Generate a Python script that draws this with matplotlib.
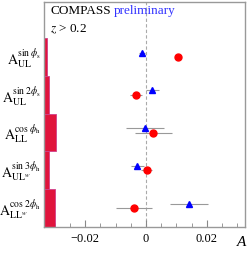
import matplotlib
matplotlib.use("Agg")
import matplotlib.pyplot as plt
from matplotlib.ticker import MultipleLocator
import numpy as np

plt.rcParams['mathtext.fontset'] = 'stix'
plt.rcParams['font.family'] = ['Liberation Serif', 'DejaVu Serif']

labels = [r"$\mathrm{A}_{\mathrm{UL}}^{\sin\,\phi_{\mathrm{s}}}$",
          r"$\mathrm{A}_{\mathrm{UL}}^{\sin\,2\phi_{\mathrm{s}}}$",
          r"$\mathrm{A}_{\mathrm{LL}}^{\cos\,\phi_{\mathrm{h}}}$",
          r"$\mathrm{A}_{\mathrm{UL}^{w}}^{\sin\,3\phi_{\mathrm{h}}}$",
          r"$\mathrm{A}_{\mathrm{LL}^{w}}^{\cos\,2\phi_{\mathrm{h}}}$"]
rows = [5, 4, 3, 2, 1]
blue_val = [-0.0012, 0.0021, -0.0003, -0.0028, 0.0142]
blue_err = [0.0010, 0.0021, 0.0063, 0.0020, 0.0063]
red_val = [0.0104, -0.0033, 0.0024, 0.0002, -0.0038]
red_err = [0.0006, 0.0020, 0.0060, 0.0019, 0.0059]
sys_width = [0.0009, 0.0018, 0.0038, 0.0016, 0.0037]

xmin, xmax = -0.0335, 0.0325
fig = plt.figure(figsize=(2.49, 2.58), dpi=100)
ax = fig.add_axes([44/249, 31/258, 201/249, 225/258])
ax.set_xlim(xmin, xmax)
ax.set_ylim(0.5, 6.46)

ax.barh(rows, sys_width, height=1.0, left=xmin, color='#e0143c',
        edgecolor='#d0408a', linewidth=0.6, zorder=2)
ax.axvline(0, color='#aaaaaa', ls=(0, (3, 2)), lw=0.8, zorder=1)

yb = np.array(rows) + 0.12
ax.errorbar(red_val, rows, xerr=red_err, fmt='o', color='red', ms=5,
            ecolor='#999999', elinewidth=0.8, capsize=0, zorder=4)
ax.errorbar(blue_val, yb, xerr=blue_err, fmt='^', color='blue', ms=5,
            ecolor='#999999', elinewidth=0.8, capsize=0, zorder=4)

for r, lab in zip(rows, labels):
    ax.text(-0.015, r - 0.05, lab, transform=ax.get_yaxis_transform(),
            fontsize=10, ha='right', va='center')

ax.text(0.03, 0.985, "COMPASS", transform=ax.transAxes, fontsize=9.5,
        va='top', ha='left')
ax.text(0.345, 0.985, "preliminary", transform=ax.transAxes, fontsize=9.5,
        va='top', ha='left', color='#3333ff')
ax.text(0.03, 0.91, r"$z$ > 0.2", transform=ax.transAxes, fontsize=9.5,
        va='top', ha='left')

ax.set_yticks([])
ax.xaxis.set_major_locator(MultipleLocator(0.02))
ax.xaxis.set_minor_locator(MultipleLocator(0.005))
ax.set_xticks([-0.02, 0, 0.02])
ax.set_xticklabels(["\u22120.02", "0", "0.02"])
ax.tick_params(axis='x', which='major', direction='in', length=5, width=0.8,
               color='#888888', labelsize=9, pad=4)
ax.tick_params(axis='x', which='minor', direction='in', length=3, width=0.6,
               color='#888888')
for s in ax.spines.values():
    s.set_color('#999999')
    s.set_linewidth(1.0)

fig.text(242/249, (258-243)/258, "A", fontsize=11, style='italic',
         ha='center', va='center')
fig.savefig("out.png", dpi=100)
